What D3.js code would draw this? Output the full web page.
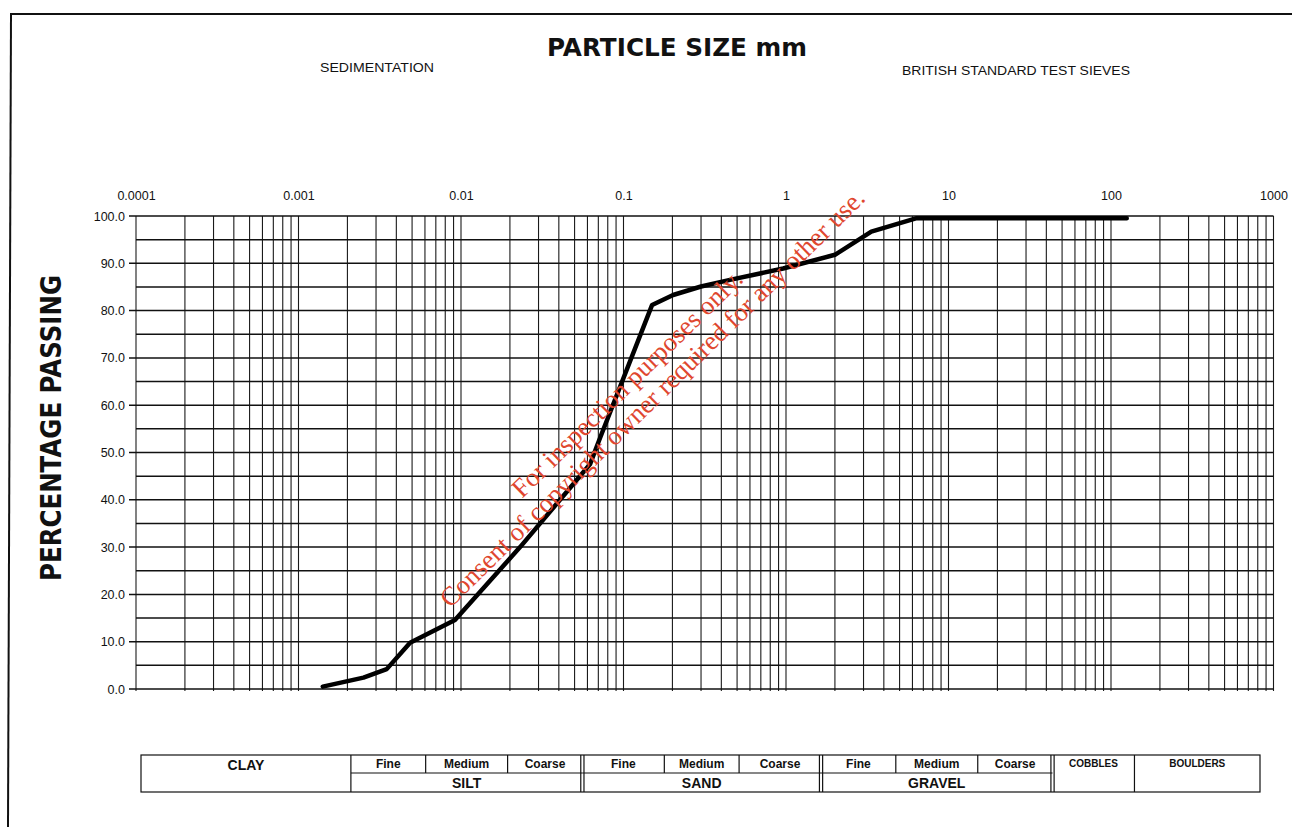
<!DOCTYPE html>
<html>
<head>
<meta charset="utf-8">
<script src="https://cdn.jsdelivr.net/npm/d3@7"></script>
<style>
  html, body { margin: 0; padding: 0; background: #fff; }
  svg { display: block; }
</style>
</head>
<body>
<script>
// ---------- DATA ----------
const sizeMM  = [0.00141, 0.00251, 0.00349, 0.00486, 0.00918, 0.0231, 0.0622, 0.0716, 0.15, 0.202, 0.3, 0.452, 0.96, 2, 3.35, 6.3, 125];
const passing = [0.5, 2.4, 4.2, 9.8, 14.6, 30.0, 47.5, 53.0, 81.2, 83.3, 85.1, 86.5, 88.9, 91.8, 96.7, 99.5, 99.5];

const xTickValues = [0.0001, 0.001, 0.01, 0.1, 1, 10, 100, 1000];
const xTickLabels = ["0.0001", "0.001", "0.01", "0.1", "1", "10", "100", "1000"];
const yTickValues = [0, 10, 20, 30, 40, 50, 60, 70, 80, 90, 100];
const yTickLabels = ["0.0", "10.0", "20.0", "30.0", "40.0", "50.0", "60.0", "70.0", "80.0", "90.0", "100.0"];
const yGridValues = [0, 5, 10, 15, 20, 25, 30, 35, 40, 45, 50, 55, 60, 65, 70, 75, 80, 85, 90, 95, 100];

// soil classification table
const mainFractions = ["SILT", "SAND", "GRAVEL"];
const mainBounds    = [[0.002, 0.06], [0.06, 2], [2, 60]];
const subFractions  = ["Fine", "Medium", "Coarse"];
const subBounds     = [0.002, 0.006, 0.02, 0.06, 0.2, 0.6, 2, 6, 20, 60];
const sideFractions = ["COBBLES", "BOULDERS"];
const sideBounds    = [[60, 200], [200, null]];

const titleText = "PARTICLE SIZE mm";
const leftSubTitle = "SEDIMENTATION";
const rightSubTitle = "BRITISH STANDARD TEST SIEVES";
const yTitle = "PERCENTAGE PASSING";
const watermark = ["For inspection purposes only.", "Consent of copyright owner required for any other use."];

// ---------- SETUP ----------
const W = 1292, H = 827;
const svg = d3.select("body").append("svg").attr("width", W).attr("height", H);
const sans = "'Liberation Sans', Arial, sans-serif";
const boldFont = "'DejaVu Sans', Verdana, sans-serif";

const x = d3.scaleLog().domain([1e-4, 1e3]).range([136, 1273.5]);
const y = d3.scaleLinear().domain([0, 100]).range([689, 216]);

// page frame
svg.append("line").attr("x1", 10).attr("y1", 14).attr("x2", W).attr("y2", 14)
  .attr("stroke", "#111").attr("stroke-width", 2);
svg.append("line").attr("x1", 11).attr("y1", 14).attr("x2", 8).attr("y2", H)
  .attr("stroke", "#111").attr("stroke-width", 2);

// titles
svg.append("text").attr("x", 677).attr("y", 56).attr("text-anchor", "middle")
  .attr("font-family", boldFont).attr("font-weight", "bold").attr("font-size", 25)
  .attr("textLength", 260).attr("lengthAdjust", "spacingAndGlyphs")
  .attr("fill", "#111").text(titleText);
svg.append("text").attr("x", 377).attr("y", 72).attr("text-anchor", "middle")
  .attr("font-family", sans).attr("font-size", 13).attr("textLength", 114).attr("lengthAdjust", "spacingAndGlyphs")
  .attr("fill", "#111").text(leftSubTitle);
svg.append("text").attr("x", 1016).attr("y", 75).attr("text-anchor", "middle")
  .attr("font-family", sans).attr("font-size", 13).attr("textLength", 228).attr("lengthAdjust", "spacingAndGlyphs")
  .attr("fill", "#111").text(rightSubTitle);

// y title
svg.append("text")
  .attr("transform", "translate(61, 428) rotate(-90)")
  .attr("text-anchor", "middle")
  .attr("font-family", boldFont).attr("font-weight", "bold").attr("font-size", 29)
  .attr("textLength", 306).attr("lengthAdjust", "spacingAndGlyphs")
  .attr("fill", "#111").text(yTitle);

// ---------- GRID ----------
const grid = svg.append("g");
const vTicks = x.ticks();
grid.selectAll("line.v").data(vTicks).join("line").attr("class", "v")
  .attr("x1", d => x(d)).attr("x2", d => x(d))
  .attr("y1", y(100)).attr("y2", y(0) + 2)
  .attr("stroke", "#1a1a1a").attr("stroke-width", 1.1);
grid.selectAll("line.h").data(yGridValues).join("line").attr("class", "h")
  .attr("x1", d => (d % 10 === 0 ? x.range()[0] - 7 : x.range()[0]))
  .attr("x2", x.range()[1])
  .attr("y1", d => y(d)).attr("y2", d => y(d))
  .attr("stroke", "#111").attr("stroke-width", 1.5);

// ---------- AXES ----------
const xAxis = d3.axisTop(x).tickValues(xTickValues)
  .tickFormat((d, i) => xTickLabels[i]).tickSize(0).tickPadding(0);
const gx = svg.append("g").attr("transform", "translate(0,200)").call(xAxis);
gx.select(".domain").remove();
gx.selectAll("text").attr("font-family", sans).attr("font-size", 12.5).attr("fill", "#111");

const yAxis = d3.axisLeft(y).tickValues(yTickValues)
  .tickFormat((d, i) => yTickLabels[i]).tickSize(0).tickPadding(0);
const gy = svg.append("g").attr("transform", "translate(125,0)").call(yAxis);
gy.select(".domain").remove();
gy.selectAll("text").attr("font-family", sans).attr("font-size", 12.5).attr("fill", "#111");

// ---------- CURVE ----------
const pts = sizeMM.map((s, i) => [s, passing[i]]);
svg.append("path").datum(pts)
  .attr("d", d3.line().x(d => x(d[0])).y(d => y(d[1])))
  .attr("fill", "none").attr("stroke", "#000").attr("stroke-width", 4.5)
  .attr("stroke-linejoin", "round").attr("stroke-linecap", "round");

// ---------- WATERMARK ----------
const wm = svg.append("g").attr("transform", "translate(636, 387) rotate(-44.5)");
wm.selectAll("text").data(watermark).join("text")
  .attr("x", (d, i) => i === 0 ? -4 : 4).attr("y", (d, i) => i === 0 ? 0 : 28)
  .attr("text-anchor", "middle")
  .attr("font-family", "'Liberation Serif', 'Times New Roman', serif")
  .attr("font-size", 26.5).attr("fill", "#e0472f")
  .text(d => d);

// ---------- CLASSIFICATION TABLE ----------
const tx = d3.scaleLog().domain([1e-4, 1e3]).range([147, 1244]);
const tTop = 755, tMid = 773, tBot = 792, tLeft = 141, tRight = 1260;
const tb = svg.append("g").attr("stroke", "#111").attr("stroke-width", 1.2).attr("fill", "none");

// outer box
tb.append("rect").attr("x", tLeft).attr("y", tTop).attr("width", tRight - tLeft).attr("height", tBot - tTop);

// mid line under sub-fractions
tb.selectAll("line.mid").data(mainBounds).join("line").attr("class", "mid")
  .attr("x1", d => tx(d[0])).attr("x2", d => tx(d[1]))
  .attr("y1", tMid).attr("y2", tMid);

// sub-fraction dividers (upper row only)
const interior = subBounds.filter(b => !mainBounds.some(m => m[0] === b || m[1] === b));
tb.selectAll("line.sub").data(interior).join("line").attr("class", "sub")
  .attr("x1", d => tx(d)).attr("x2", d => tx(d)).attr("y1", tTop).attr("y2", tMid);

// full-height dividers
const fullSingle = [0.002, 200];
tb.selectAll("line.full").data(fullSingle).join("line").attr("class", "full")
  .attr("x1", d => tx(d)).attr("x2", d => tx(d)).attr("y1", tTop).attr("y2", tBot);
const fullDouble = [0.06, 2, 60];
fullDouble.forEach(b => {
  [-1.6, 1.6].forEach(o => {
    tb.append("line").attr("x1", tx(b) + o).attr("x2", tx(b) + o).attr("y1", tTop).attr("y2", tBot);
  });
});

const tt = svg.append("g").attr("font-family", sans).attr("font-weight", "bold").attr("fill", "#111").attr("text-anchor", "middle");
// CLAY
tt.append("text").attr("x", (tLeft + tx(0.002)) / 2).attr("y", 770).attr("font-size", 14).text("CLAY");
// sub fractions
for (let i = 0; i < subBounds.length - 1; i++) {
  const a = subBounds[i], b = subBounds[i + 1];
  const cx = Math.sqrt(a * b);
  tt.append("text").attr("x", tx(cx)).attr("y", 768).attr("font-size", 12)
    .text(subFractions[i % 3]);
}
// main fractions
mainFractions.forEach((f, i) => {
  const m = mainBounds[i];
  tt.append("text").attr("x", tx(Math.sqrt(m[0] * m[1]))).attr("y", 788).attr("font-size", 14).text(f);
});
// cobbles / boulders
sideFractions.forEach((f, i) => {
  const m = sideBounds[i];
  const left = tx(m[0]), right = m[1] ? tx(m[1]) : tRight;
  tt.append("text").attr("x", (left + right) / 2).attr("y", 767).attr("font-size", 10).text(f);
});
</script>
</body>
</html>
